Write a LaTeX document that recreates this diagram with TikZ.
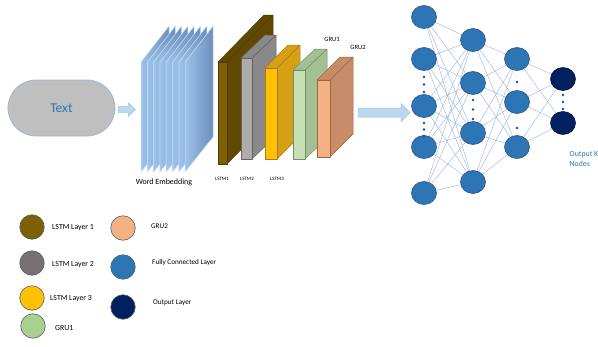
\documentclass[tikz,border=0pt]{standalone}
\usepackage{fontspec}
\setmainfont{Carlito}
\usetikzlibrary{shapes.geometric,backgrounds}
\definecolor{pillfill}{RGB}{191,191,191}
\definecolor{pillline}{RGB}{160,182,212}
\definecolor{textblue}{RGB}{46,117,182}
\definecolor{arrfill}{RGB}{189,215,238}
\definecolor{arrline}{RGB}{157,195,230}
\definecolor{embL}{RGB}{158,195,234}
\definecolor{embR}{RGB}{108,142,188}
\definecolor{embline}{RGB}{205,226,248}
\definecolor{bF}{RGB}{127,96,0}
\definecolor{bS}{RGB}{96,72,0}
\definecolor{bL}{RGB}{78,60,12}
\definecolor{gF}{RGB}{175,171,171}
\definecolor{gS}{RGB}{137,137,137}
\definecolor{gL}{RGB}{105,98,95}
\definecolor{yF}{RGB}{255,192,0}
\definecolor{yS}{RGB}{214,160,20}
\definecolor{yL}{RGB}{170,122,40}
\definecolor{grF}{RGB}{197,224,180}
\definecolor{grS}{RGB}{163,192,148}
\definecolor{grL}{RGB}{120,140,100}
\definecolor{oF}{RGB}{244,177,131}
\definecolor{oS}{RGB}{200,140,105}
\definecolor{oL}{RGB}{160,100,70}
\definecolor{nnfill}{RGB}{46,117,182}
\definecolor{nnline}{RGB}{40,84,140}
\definecolor{outfill}{RGB}{0,32,96}
\definecolor{outline}{RGB}{0,20,64}
\definecolor{edgecol}{RGB}{143,170,220}
\definecolor{dotcol}{RGB}{31,78,121}
\definecolor{leggray}{RGB}{118,113,113}
\definecolor{leggreen}{RGB}{169,209,142}
\definecolor{legring}{RGB}{80,95,115}
\newcommand\mycuboid[9]{%
  \filldraw[fill=#8, draw=#9, line width=0.5pt, line join=round]
    (#3,#4) -- (#3,#2) -- ({#3+#5},{#2+#6}) -- ({#3+#5},{#4+#6}) -- cycle;
  \filldraw[fill=#8, draw=#9, line width=0.5pt, line join=round]
    (#1,#2) -- ({#1+#5},{#2+#6}) -- ({#3+#5},{#2+#6}) -- (#3,#2) -- cycle;
  \filldraw[fill=#7, draw=#9, line width=0.5pt, line join=round]
    (#1,#2) rectangle (#3,#4);
}
\begin{document}
\begin{tikzpicture}[x=1pt,y=-1pt,
  nn/.style={ellipse, draw=nnline, fill=nnfill, line width=0.6pt,
    minimum width=25pt, minimum height=23pt, inner sep=0pt},
  outn/.style={nn, draw=outline, fill=outfill},
  conn/.style={draw=edgecol, line width=0.35pt},
  ndot/.style={fill=dotcol, draw=none},
  lab/.style={font=\fontsize{7.8}{9}\selectfont, text=black, anchor=west, inner sep=0pt},
  labs/.style={font=\fontsize{7.2}{8}\selectfont, text=black, anchor=west, inner sep=0pt},
  legc/.style={circle, minimum size=24.5pt, inner sep=0pt, line width=0.6pt, draw=legring},
  blockarrow/.style={fill=arrfill, draw=arrline, line width=0.5pt, line join=round},
]
\useasboundingbox (0,0) rectangle (598,346);

% Text pill
\node[draw=pillline, fill=pillfill, line width=0.8pt, rounded corners=28pt,
  minimum width=107pt, minimum height=56pt, text=textblue,
  font=\fontsize{13.5}{15}\selectfont] (text) at (61.5,108) {Text};

% small arrow
\filldraw[blockarrow] (118,106.7) -- (128,106.7) -- (128,102.5) -- (135.5,109.5)
  -- (128,116.5) -- (128,112.3) -- (118,112.3) -- cycle;

% word embedding slabs
\foreach \i in {0,...,7}{
  \pgfmathsetmacro\xa{141+6.3*\i}
  \draw[draw=embline, line width=0.5pt, left color=embL, right color=embR]
    (\xa,172) -- (\xa,62) -- ({\xa+28},26) -- ({\xa+28},137) -- cycle;
}
\node[font=\fontsize{8}{9}\selectfont] (we) at (164,182) {Word Embedding};

% cuboids
\mycuboid{218}{62}{227}{164}{46}{-47}{bF}{bS}{bL}
\mycuboid{241}{58}{252}{159}{24}{-23}{gF}{gS}{gL}
\mycuboid{265}{68}{277}{159}{23}{-23}{yF}{yS}{yL}
\mycuboid{293}{70}{305}{159}{22}{-21}{grF}{grS}{grL}
\mycuboid{317}{80}{330}{157}{23}{-23}{oF}{oS}{oL}

\node[font=\fontsize{5}{6}\selectfont] (ls1) at (222,179) {LSTM1};
\node[font=\fontsize{5}{6}\selectfont] (ls2) at (247,179) {LSTM2};
\node[font=\fontsize{5}{6}\selectfont] (ls3) at (277,179) {LSTM3};
\node[font=\fontsize{6.5}{7}\selectfont] (gu1) at (332,39) {GRU1};
\node[font=\fontsize{6.5}{7}\selectfont] (gu2) at (358,47) {GRU2};

% big arrow
\filldraw[blockarrow] (358,108) -- (401,108) -- (401,103.5) -- (410,112.5)
  -- (401,121.5) -- (401,117) -- (358,117) -- cycle;

% network nodes
\node[nn] (a1) at (424,17) {};
\node[nn] (a2) at (424,59) {};
\node[nn] (a3) at (424,106) {};
\node[nn] (a4) at (424,147) {};
\node[nn] (a5) at (424,193) {};
\node[nn] (b1) at (473,40) {};
\node[nn] (b2) at (473,83) {};
\node[nn] (b3) at (473,133) {};
\node[nn] (b4) at (473,182) {};
\node[nn] (c1) at (517,59) {};
\node[nn] (c2) at (517,102) {};
\node[nn] (c3) at (517,147) {};
\node[outn] (d1) at (563,79) {};
\node[outn] (d2) at (563,123) {};

\begin{scope}[on background layer]
\foreach \a in {a1,a2,a3,a4,a5}
  \foreach \b in {b1,b2,b3,b4}
    \draw[conn] (\a) -- (\b);
\foreach \a in {b1,b2,b3,b4}
  \foreach \b in {c1,c2,c3}
    \draw[conn] (\a) -- (\b);
\foreach \a in {c1,c2,c3}
  \foreach \b in {d1,d2}
    \draw[conn] (\a) -- (\b);
\end{scope}

% dots
\foreach \y in {77,84.5,92,123,129.5,136} \fill[ndot] (424,\y) circle (1.4pt);
\foreach \y in {100,109.5,119} \fill[ndot] (473,\y) circle (1.4pt);
\foreach \y in {82,128} \fill[ndot] (517,\y) circle (1.4pt);
\foreach \y in {95,102,109} \fill[ndot] (563,\y) circle (1.4pt);

\node[anchor=north west, align=left, text=textblue, inner sep=0pt,
  font=\fontsize{7.8}{9.5}\selectfont] (outlab) at (569.5,151.5) {Output K\\Nodes};

% legend
\node[legc, fill=bF] (g1) at (32,227) {};
\node[legc, fill=leggray] (g2) at (32,263) {};
\node[legc, fill=yF] (g3) at (32,298) {};
\node[legc, fill=leggreen] (g4) at (33,326) {};
\node[legc, fill=oF] (g5) at (123,228) {};
\node[legc, fill=nnfill] (g6) at (123,267) {};
\node[legc, fill=outfill] (g7) at (123,307) {};

\node[lab] (t1) at (52,228) {LSTM Layer 1};
\node[lab] (t2) at (52,265) {LSTM Layer 2};
\node[lab] (t3) at (50,299) {LSTM Layer 3};
\node[lab] (t4) at (55,328) {GRU1};
\node[labs] (t5) at (151,226) {GRU2};
\node[labs] (t6) at (152,263) {Fully Connected Layer};
\node[labs] (t7) at (153,303) {Output Layer};
\end{tikzpicture}
\end{document}
